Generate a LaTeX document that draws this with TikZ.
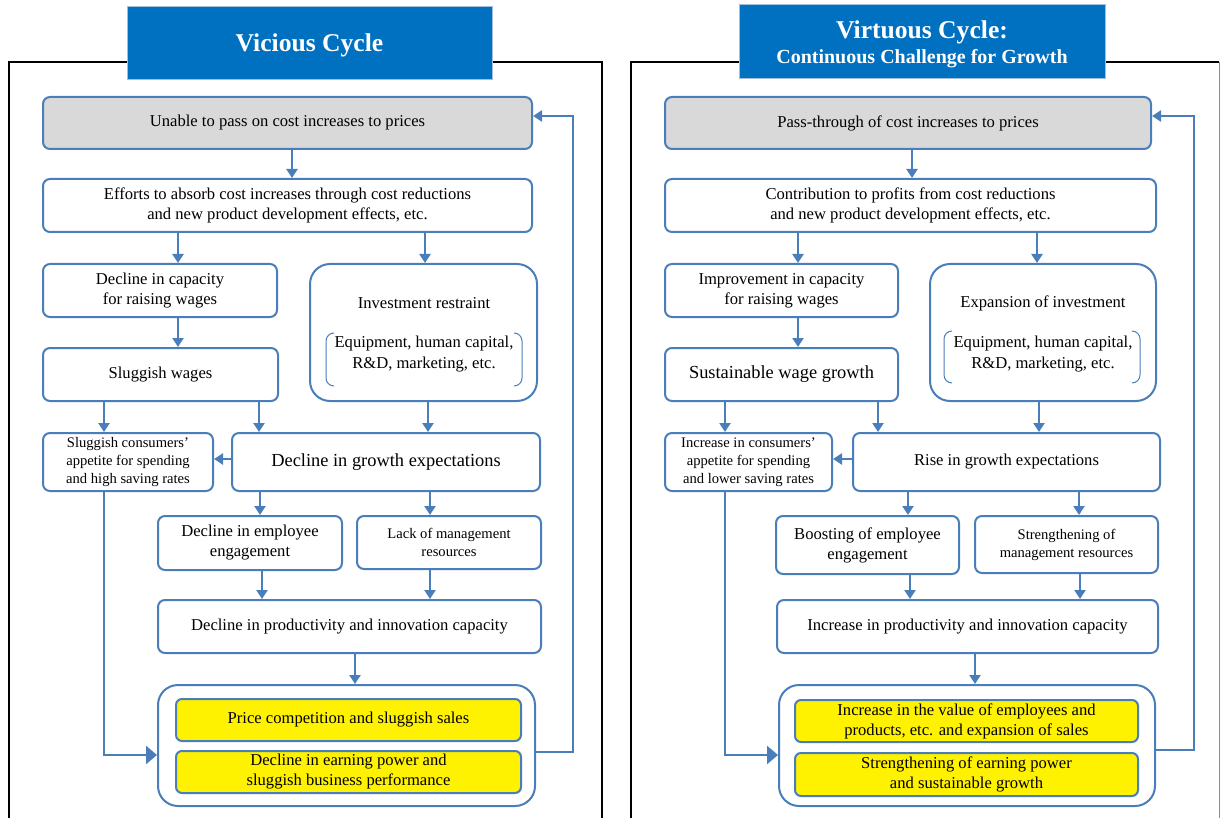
\documentclass[tikz,border=0pt]{standalone}
\usepackage{fontspec}
\setmainfont{Liberation Serif}
\usetikzlibrary{arrows.meta}
\definecolor{myblue}{RGB}{74,126,187}
\definecolor{titleblue}{RGB}{0,112,192}
\definecolor{boxgray}{RGB}{217,217,217}
\tikzset{
    sz/.style 2 args = {minimum width=#1pt, minimum height=#2pt},
    mybox/.style = {rectangle, rounded corners=7pt, line width=2pt, draw=myblue, fill=white, align=center, inner sep=2pt, font=\fontsize{16.6}{20}\selectfont},
    myboxs/.style = {mybox, font=\fontsize{14.6}{18}\selectfont},
    myboxl/.style = {mybox, font=\fontsize{18.4}{21}\selectfont},
    myboxg/.style = {mybox, fill=boxgray},
    myboxy/.style = {mybox, rounded corners=6pt, fill=yellow},
    mybigbox/.style = {mybox, rounded corners=20pt},
    mytitle/.style = {rectangle, draw=myblue!50, line width=1pt, fill=titleblue, text=white, align=center, font=\bfseries},
    bracket/.style = {myblue, line width=1pt, rounded corners=8pt},
    edgen/.style = {-{Triangle[length=9pt,width=11pt]}, line width=2.6pt, myblue},
    edgel/.style = {-{Triangle[length=11pt,width=18pt]}, line width=2.6pt, myblue},
    framel/.style = {line width=1.8pt, black}
}
\begin{document}
\begin{tikzpicture}[x=1pt, y=-1pt]
\useasboundingbox (0,0) rectangle (1223,818);
%
% vicious cycle
\draw[framel] (9,820) -- (9,62) -- (602,62) -- (602,820);
\node[mytitle, sz={365}{73}] at (309.5,43.5) (vt) {};
\node[text=white, font=\bfseries\fontsize{25.6}{28}\selectfont] at (309.5,45) (vta) {Vicious Cycle};
\node[myboxg, sz={489}{52}] at (287.5,123) (v1) {Unable to pass on cost increases to prices};
\node[mybox, sz={489}{53}] at (287.5,205.5) (v2) {Efforts to absorb cost increases through cost reductions\\and new product development effects, etc.};
\node[mybox, sz={234}{53}] at (160,290.5) (v3) {Decline in capacity\\for raising wages};
\node[mybigbox, sz={227}{137}] at (423.5,332.5) (v4) {};
\node[font=\fontsize{16.6}{20}\selectfont] at (424,303) (v4a) {Investment restraint};
\node[align=center, font=\fontsize{16.6}{21}\selectfont] at (424,354) (v4b) {Equipment, human capital,\\R\&D, marketing, etc.};
\node[mybox, sz={235}{53}] at (160.5,374.5) (v5) {Sluggish wages};
\node[myboxs, sz={170}{58}] at (128,462) (v6) {Sluggish consumers'\\appetite for spending\\and high saving rates};
\node[myboxl, sz={308}{58}] at (386,462) (v7) {Decline in growth expectations};
\node[mybox, sz={184}{54}] at (250,543) (v8) {Decline in employee\\engagement};
\node[myboxs, sz={184}{53}] at (449,542.5) (v9) {Lack of management\\resources};
\node[mybox, sz={383}{53}] at (349.5,626.5) (v10) {Decline in productivity and innovation capacity};
\node[mybigbox, sz={377}{121}] at (346.5,745.5) (v11) {};
\node[myboxy, sz={345}{42}] at (348.5,720) (v12) {Price competition and sluggish sales};
\node[myboxy, sz={345}{42}] at (348.5,772) (v13) {Decline in earning power and\\sluggish business performance};
\draw[bracket] (334,333) -- (326,333) -- (326,386) -- (334,386);
\draw[bracket] (514,333) -- (522,333) -- (522,386) -- (514,386);
%
\draw[edgen] (v1.south -| 292,0) -- (v2.north -| 292,0);
\draw[edgen] (v2.south -| 178,0) -- (v3.north -| 178,0);
\draw[edgen] (v2.south -| 425,0) -- (v4.north -| 425,0);
\draw[edgen] (v3.south -| 178,0) -- (v5.north -| 178,0);
\draw[edgen] (v5.south -| 104,0) -- (v6.north -| 104,0);
\draw[edgen] (v5.south -| 259,0) -- (v7.north -| 259,0);
\draw[edgen] (v4.south -| 428,0) -- (v7.north -| 428,0);
\draw[edgen] (v7.west |- 0,459) -- (v6.east |- 0,459);
\draw[edgen] (v7.south -| 260,0) -- (v8.north -| 260,0);
\draw[edgen] (v7.south -| 430,0) -- (v9.north -| 430,0);
\draw[edgen] (v8.south -| 262,0) -- (v10.north -| 262,0);
\draw[edgen] (v9.south -| 430,0) -- (v10.north -| 430,0);
\draw[edgen] (v10.south -| 355,0) -- (v11.north -| 355,0);
\draw[edgel] (v6.south -| 104,0) |- (v11.west |- 0,755);
\draw[edgen] (v11.east |- 0,752) -| (573,116) -- (v1.east |- 0,116);
%
% virtuous cycle
\draw[framel] (631,820) -- (631,62) -- (1219,62);
\draw[line width=1pt, black!45] (1219,62) -- (1219,820);
\node[mytitle, sz={366}{74}] at (922,42) (rt) {};
\node[text=white, font=\bfseries\fontsize{25.6}{28}\selectfont] at (922,32) (rta) {Virtuous Cycle:};
\node[text=white, font=\bfseries\fontsize{20}{22}\selectfont] at (922,59) (rtb) {Continuous Challenge for Growth};
\node[myboxg, sz={486}{52}] at (908,123) (r1) {Pass-through of cost increases to prices};
\node[mybox, sz={491}{53}] at (910.5,205.5) (r2) {Contribution to profits from cost reductions\\and new product development effects, etc.};
\node[mybox, sz={233}{53}] at (781.5,290.5) (r3) {Improvement in capacity\\for raising wages};
\node[mybigbox, sz={226}{137}] at (1043,332.5) (r4) {};
\node[font=\fontsize{16.6}{20}\selectfont] at (1043,303) (r4a) {Expansion of investment};
\node[align=center, font=\fontsize{16.6}{21}\selectfont] at (1043,354) (r4b) {Equipment, human capital,\\R\&D, marketing, etc.};
\node[myboxl, sz={233}{53}] at (781.5,374.5) (r5) {Sustainable wage growth};
\node[myboxs, sz={167}{58}] at (748.5,462) (r6) {Increase in consumers'\\appetite for spending\\and lower saving rates};
\node[mybox, sz={307}{58}] at (1006.5,462) (r7) {Rise in growth expectations};
\node[mybox, sz={183}{58}] at (867.5,545) (r8) {Boosting of employee\\engagement};
\node[myboxs, sz={183}{57}] at (1066.5,544.5) (r9) {Strengthening of\\management resources};
\node[mybox, sz={381}{53}] at (967.5,626.5) (r10) {Increase in productivity and innovation capacity};
\node[mybigbox, sz={376}{121}] at (967,745.5) (r11) {};
\node[myboxy, sz={343}{42}] at (966.5,721) (r12) {Increase in the value of employees and\\products, etc. and expansion of sales};
\node[myboxy, sz={343}{43}] at (966.5,774.5) (r13) {Strengthening of earning power\\and sustainable growth};
\draw[bracket] (952,331) -- (944,331) -- (944,383) -- (952,383);
\draw[bracket] (1132,331) -- (1140,331) -- (1140,383) -- (1132,383);
%
\draw[edgen] (r1.south -| 912,0) -- (r2.north -| 912,0);
\draw[edgen] (r2.south -| 798,0) -- (r3.north -| 798,0);
\draw[edgen] (r2.south -| 1037,0) -- (r4.north -| 1037,0);
\draw[edgen] (r3.south -| 798,0) -- (r5.north -| 798,0);
\draw[edgen] (r5.south -| 725,0) -- (r6.north -| 725,0);
\draw[edgen] (r5.south -| 878,0) -- (r7.north -| 878,0);
\draw[edgen] (r4.south -| 1039,0) -- (r7.north -| 1039,0);
\draw[edgen] (r7.west |- 0,459) -- (r6.east |- 0,459);
\draw[edgen] (r7.south -| 908,0) -- (r8.north -| 908,0);
\draw[edgen] (r7.south -| 1079,0) -- (r9.north -| 1079,0);
\draw[edgen] (r8.south -| 910,0) -- (r10.north -| 910,0);
\draw[edgen] (r9.south -| 1080,0) -- (r10.north -| 1080,0);
\draw[edgen] (r10.south -| 975,0) -- (r11.north -| 975,0);
\draw[edgel] (r6.south -| 725,0) |- (r11.west |- 0,755);
\draw[edgen] (r11.east |- 0,750) -| (1194,116) -- (r1.east |- 0,116);
\end{tikzpicture}
\end{document}
